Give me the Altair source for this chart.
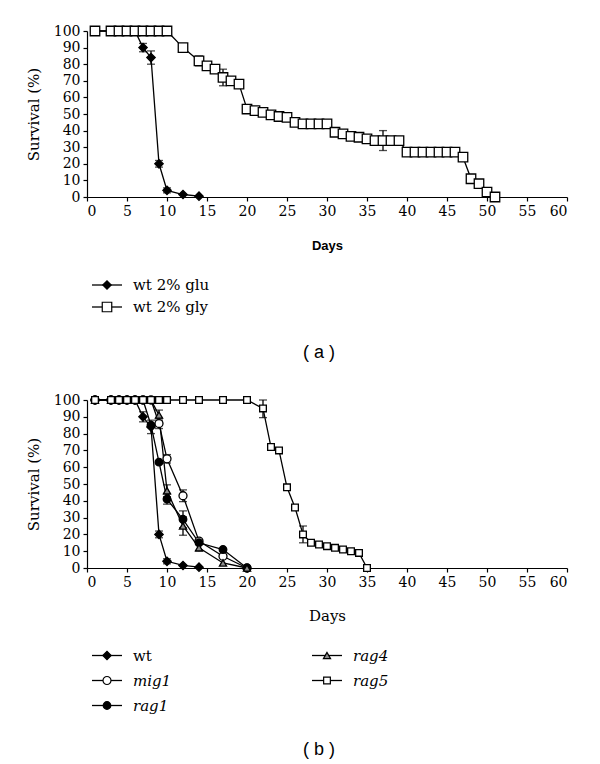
import altair as alt
import pandas as pd

# ---- panel (a): wild type on glucose vs glycerol ----
a_series = ["wt 2% glu", "wt 2% gly"]
glu_days = [1, 3, 4, 5, 6, 7, 8, 9, 10, 12, 14]
glu_surv = [100, 100, 100, 100, 100, 90, 84, 20, 4, 1.5, 0.5]
gly_days = [1, 3, 4, 5, 6, 7, 8, 9, 10, 12, 14, 15, 16, 17, 18, 19, 20, 21, 22, 23,
            24, 25, 26, 27, 28, 29, 30, 31, 32, 33, 34, 35, 36, 37, 38, 39, 40, 41,
            42, 43, 44, 45, 46, 47, 48, 49, 50, 51]
gly_surv = [100, 100, 100, 100, 100, 100, 100, 100, 100, 90, 82, 79, 77, 72, 70, 68,
            53, 52, 51, 49.5, 48.5, 48, 45, 44, 44, 44, 44, 39, 38, 36.5, 36, 35, 34,
            34, 34, 34, 27, 27, 27, 27, 27, 27, 27, 24, 11, 8, 3, 0]
a_err_series = ["wt 2% glu"] * 4 + ["wt 2% gly"] * 6
a_err_days = [7, 8, 9, 10, 14, 17, 20, 29, 32, 37]
a_err_size = [2.5, 4, 2, 1.5, 3, 5, 2, 2.5, 2, 6]

# ---- panel (b): mutants on glucose ----
b_series = ["wt", "mig1", "rag1", "rag4", "rag5"]
wt_days = [1, 3, 4, 5, 6, 7, 8, 9, 10, 12, 14]
wt_surv = [100, 100, 100, 100, 100, 90, 84, 20, 4, 1.5, 0.5]
mig1_days = [1, 3, 4, 5, 6, 7, 8, 9, 10, 12, 14, 17, 20]
mig1_surv = [100, 100, 100, 100, 100, 100, 100, 86, 65, 43, 16, 7, 0]
rag1_days = [1, 3, 4, 5, 6, 7, 8, 9, 10, 12, 14, 17, 20]
rag1_surv = [100, 100, 100, 100, 100, 100, 85, 63, 41, 29, 15, 11, 0]
rag4_days = [1, 3, 4, 5, 6, 7, 8, 9, 10, 12, 14, 17, 20]
rag4_surv = [100, 100, 100, 100, 100, 100, 100, 91, 46, 25, 12, 3, 0]
rag5_days = [1, 3, 4, 5, 6, 7, 8, 9, 10, 12, 14, 17, 20, 22, 23, 24, 25, 26, 27,
             28, 29, 30, 31, 32, 33, 34, 35]
rag5_surv = [100, 100, 100, 100, 100, 100, 100, 100, 100, 100, 100, 100, 100, 95,
             72, 70, 48, 36, 20, 15, 14, 13, 12, 11, 10, 9, 0]
b_err_series = ["wt"] * 4 + ["mig1"] * 3 + ["rag1"] * 2 + ["rag4"] * 4 + ["rag5"] * 2
b_err_days = [7, 8, 9, 10, 9, 10, 12, 10, 12, 9, 10, 12, 14, 22, 27]
b_err_size = [3, 4, 2, 1.5, 3, 2.5, 3.5, 3, 5, 3, 3.5, 5.5, 2, 5.5, 5]

SERIF = "DejaVu Serif"


def long_df(names, days_list, surv_list):
    rows = []
    for k, (n, ds, ss) in enumerate(zip(names, days_list, surv_list)):
        for d, s in zip(ds, ss):
            rows.append({"series": n, "k": k, "day": d, "surv": s})
    return pd.DataFrame(rows)


def err_df(data, names, days, sizes):
    # lower end in "surv", upper end in "surv_hi"
    rows = []
    for n, d, e in zip(names, days, sizes):
        v = data[(data.series == n) & (data.day == d)].surv.iloc[0]
        rows.append({"series": n, "day": d, "surv": max(v - e, 0),
                     "surv_hi": min(v + e, 100)})
    return pd.DataFrame(rows)


def panel(data, errs, names, shapes, fills, sizes, height, xtitle):
    x = alt.X("day:Q", scale=alt.Scale(domain=[0, 60], nice=False),
              axis=alt.Axis(values=list(range(0, 61, 5)), title="Days", **xtitle))
    y = alt.Y("surv:Q", scale=alt.Scale(domain=[0, 100], nice=False),
              axis=alt.Axis(values=list(range(0, 101, 10)), title="Survival (%)",
                            labelOverlap=False))
    shape = alt.Shape("series:N", scale=alt.Scale(domain=names, range=shapes), legend=None)
    fill = alt.Fill("series:N", scale=alt.Scale(domain=names, range=fills), legend=None)
    size = alt.Size("series:N", scale=alt.Scale(domain=names, range=sizes), legend=None)

    base = alt.Chart(data)
    lines = base.mark_line(color="black", strokeWidth=1.3).encode(
        x=x, y=y, detail="series:N", order="day:Q")
    ebase = alt.Chart(errs)
    bars = ebase.mark_rule(color="black", strokeWidth=1.3).encode(
        x=x, y=y, y2="surv_hi:Q")
    caps = ebase.transform_calculate(lo="datum.surv").transform_fold(
        ["lo", "surv_hi"], as_=["end", "surv"]).mark_tick(
        orient="horizontal", size=8, thickness=1.3, color="black").encode(
        x=x, y=y)
    pts = base.mark_point(stroke="black", strokeWidth=1.3, opacity=1, fillOpacity=1).encode(
        x=x, y=y, shape=shape, fill=fill, size=size, order="k:Q")
    return alt.layer(lines, bars, caps, pts).properties(width=480, height=height)


def legend(names, shapes, fills, sizes, cols, rows, italic, step, caption, cap_offset):
    ld = pd.DataFrame({"series": names, "col": cols, "row": rows, "it": italic})
    shape = alt.Shape("series:N", scale=alt.Scale(domain=names, range=shapes), legend=None)
    fill = alt.Fill("series:N", scale=alt.Scale(domain=names, range=fills), legend=None)
    size = alt.Size("series:N", scale=alt.Scale(domain=names, range=sizes), legend=None)
    xs = alt.Scale(domain=[0, 480], nice=False, zero=False)
    y = alt.Y("row:O", scale=alt.Scale(type="point", padding=0.5), axis=None)
    base = alt.Chart(ld).transform_calculate(
        x0="datum.col * 220 + 5", x1="datum.col * 220 + 35",
        xm="datum.col * 220 + 20", xt="datum.col * 220 + 46")
    seg = base.mark_rule(color="black", strokeWidth=1.3).encode(
        x=alt.X("x0:Q", scale=xs, axis=None), x2="x1:Q", y=y)
    sym = base.mark_point(stroke="black", strokeWidth=1.2, opacity=1, fillOpacity=1).encode(
        x=alt.X("xm:Q", scale=xs, axis=None), y=y, shape=shape, fill=fill,
        size=size)
    txt_n = base.transform_filter("!datum.it").mark_text(
        align="left", baseline="middle", font=SERIF, fontSize=15, color="black").encode(
        x=alt.X("xt:Q", scale=xs, axis=None), y=y, text="series:N")
    txt_i = base.transform_filter("datum.it").mark_text(
        align="left", baseline="middle", font=SERIF, fontSize=15, fontStyle="italic",
        color="black").encode(
        x=alt.X("xt:Q", scale=xs, axis=None), y=y, text="series:N")
    return alt.layer(seg, sym, txt_n, txt_i).properties(
        width=480, height=alt.Step(step),
        title=alt.TitleParams(caption, orient="bottom", anchor="middle", dx=-8,
                              font="Liberation Sans", fontSize=18,
                              fontWeight="normal", color="black", offset=cap_offset))


a_data = long_df(a_series, [glu_days, gly_days], [glu_surv, gly_surv])
a_errs = err_df(a_data, a_err_series, a_err_days, a_err_size)
b_data = long_df(b_series, [wt_days, mig1_days, rag1_days, rag4_days, rag5_days],
                 [wt_surv, mig1_surv, rag1_surv, rag4_surv, rag5_surv])
b_errs = err_df(b_data, b_err_series, b_err_days, b_err_size)

a_shapes = ["diamond", "square"]
a_fills = ["black", "white"]
a_sizes = [70, 90]
b_shapes = ["diamond", "circle", "circle", "triangle-up", "square"]
b_fills = ["black", "white", "black", "#8c8c8c", "white"]
b_sizes = [70, 45, 45, 50, 90]

top = panel(a_data, a_errs, a_series, a_shapes, a_fills, a_sizes, 166,
            dict(titleFont="Liberation Sans", titleFontWeight="bold", titleFontSize=13,
                 titlePadding=21))
top_leg = legend(a_series, a_shapes, a_fills, a_sizes, [0, 0], [0, 1],
                 [False, False], 22, "( a )", 26)
bottom = panel(b_data, b_errs, b_series, b_shapes, b_fills, b_sizes, 168,
               dict(titleFont=SERIF, titleFontWeight="normal", titleFontSize=15,
                    titlePadding=19))
bot_leg = legend(b_series, b_shapes, b_fills, b_sizes, [0, 0, 0, 1, 1],
                 [0, 1, 2, 0, 1], [False, True, True, True, True], 25, "( b )", 23)

chart = alt.vconcat(
    alt.vconcat(top, top_leg, spacing=20),
    alt.vconcat(bottom, bot_leg, spacing=18),
    spacing=29,
).resolve_scale(
    shape="independent", fill="independent", size="independent"
).properties(
    padding={"left": 17, "top": 15, "right": 5, "bottom": 0}
).configure_view(
    stroke="transparent"
).configure_axis(
    grid=False, domainColor="black", tickColor="black", labelColor="black",
    titleColor="black", labelFont=SERIF, labelFontSize=14, titleFont=SERIF,
    titleFontSize=15, titleFontWeight="normal", tickSize=4, labelPadding=3,
    domainWidth=1.2, tickWidth=1.2
).configure_axisY(
    titlePadding=12
)

chart.save("out.html", embed_options={"renderer": "svg", "actions": False})
